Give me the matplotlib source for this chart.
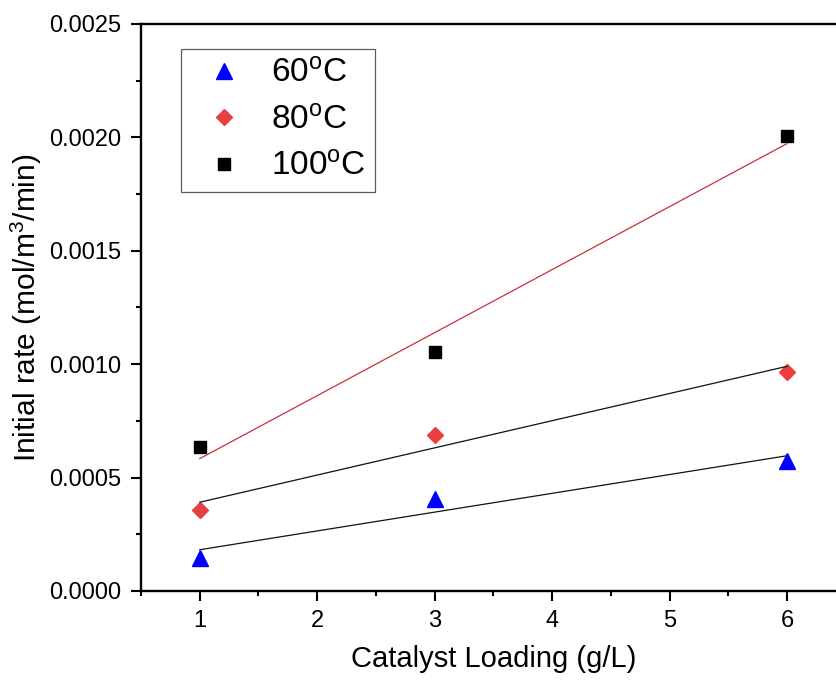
import numpy as np
import matplotlib
matplotlib.use("Agg")
import matplotlib.pyplot as plt
from matplotlib.ticker import MultipleLocator, FormatStrFormatter

plt.rcParams['font.family'] = ['Liberation Sans', 'DejaVu Sans']
plt.rcParams['mathtext.fontset'] = 'custom'
plt.rcParams['mathtext.rm'] = 'Liberation Sans'
plt.rcParams['mathtext.it'] = 'Liberation Sans:italic'
plt.rcParams['mathtext.bf'] = 'Liberation Sans:bold'

# data
loading = [1, 3, 6]
rate_60 = [0.000147, 0.000406, 0.000573]
rate_80 = [0.000356, 0.000690, 0.000967]
rate_100 = [0.000634, 0.001055, 0.002006]
labels = ['60$^{\\rm o}$C', '80$^{\\rm o}$C', '100$^{\\rm o}$C']

fig = plt.figure(figsize=(8.37, 6.83), dpi=100)
ax = fig.add_axes([0.1685, 0.1347, 1.0104 - 0.1685, 0.9649 - 0.1347])

# markers
ax.plot(loading, rate_60, linestyle='none', marker='^', markersize=11,
        color='#0000FF', label=labels[0], zorder=2)
ax.plot(loading, rate_80, linestyle='none', marker='D', markersize=8.5,
        color='#E84040', label=labels[1], zorder=2)
ax.plot(loading, rate_100, linestyle='none', marker='s', markersize=9,
        color='black', label=labels[2], zorder=2)

# linear fits
xfit = np.array([loading[0], loading[-1]])
for ys, c in [(rate_60, '#111111'), (rate_80, '#111111'), (rate_100, '#C8303C')]:
    k, b = np.polyfit(loading, ys, 1)
    ax.plot(xfit, k * xfit + b, color=c, linewidth=0.9, zorder=3)

ax.set_xlim(0.5, 6.5)
ax.set_ylim(0, 0.0025)
ax.xaxis.set_major_locator(MultipleLocator(1))
ax.xaxis.set_minor_locator(MultipleLocator(0.5))
ax.yaxis.set_major_locator(MultipleLocator(0.0005))
ax.yaxis.set_minor_locator(MultipleLocator(0.00025))
ax.yaxis.set_major_formatter(FormatStrFormatter('%.4f'))

for s in ['left', 'bottom', 'top']:
    ax.spines[s].set_linewidth(1.7)
ax.spines['right'].set_visible(False)
ax.tick_params(which='major', direction='out', length=7, width=1.5,
               labelsize=17, pad=7, top=False, right=False)
ax.tick_params(which='minor', direction='out', length=3.5, width=1.5,
               top=False, right=False)

ax.set_xlabel('Catalyst Loading (g/L)', fontsize=21, labelpad=9)
ax.set_ylabel('Initial rate (mol/m$^3$/min)', fontsize=21.5, labelpad=4)

leg = ax.legend(loc='upper left', bbox_to_anchor=(0.0568, 0.955),
                borderaxespad=0, fontsize=24, frameon=True, fancybox=False,
                edgecolor='#333333', handletextpad=0.42, labelspacing=0.46,
                borderpad=0.28, handlelength=2.0)
leg.get_frame().set_linewidth(0.9)

fig.savefig('out.png', dpi=100)
